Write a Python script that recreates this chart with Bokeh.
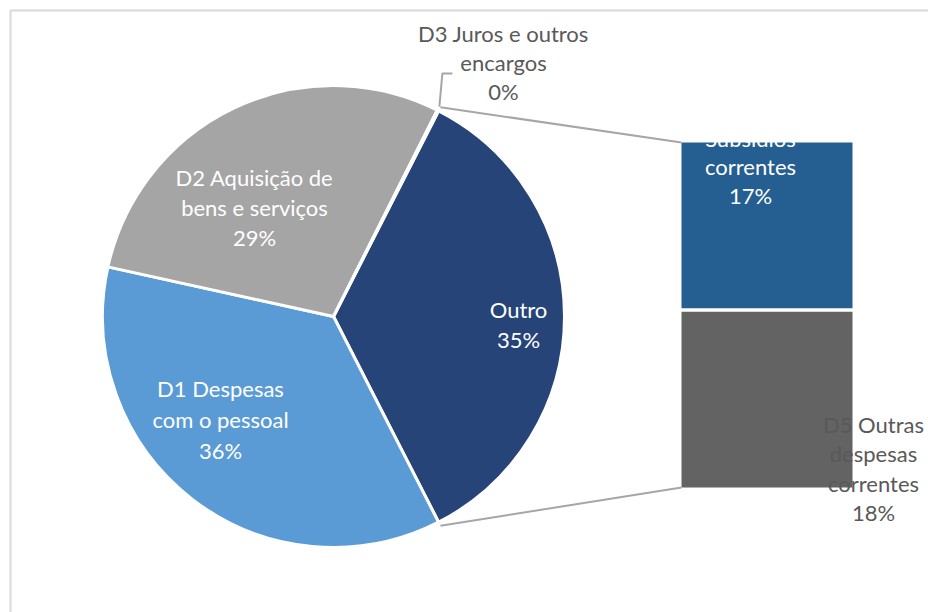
import math
from bokeh.plotting import figure
from bokeh.models import Range1d, ColumnDataSource
from bokeh.core.properties import value
from bokeh.embed import file_html
from bokeh.resources import INLINE

# ---- data ----
pie_labels = ["D1 Despesas com o pessoal", "D2 Aquisição de bens e serviços", "D3 Juros e outros encargos"]
pie_values = [36.0, 29.0, 0.1]
bar_labels = ["D4 Subsídios correntes", "D5 Outras despesas correntes"]
bar_values = [17.0, 18.0]
other_label = "Outro"

pie_colors = ["#5B9BD5", "#A5A5A5", "#FFC000"]
other_color = "#264478"
bar_colors = ["#255E91", "#636363"]

# ---- layout (screen pixels, y measured downward from the top) ----
W, H = 928, 612


def Y(sy):
    return H - sy


CX, CY, R = 333, Y(316), 231
BAR_X0, BAR_X1 = 681, 852
BAR_TOP, BAR_BOTTOM = Y(142), Y(487)
GAP = 3.5
FONT = "Lato"
FS = "22px"
LH = 29.8

other_value = sum(bar_values)
total = sum(pie_values) + other_value

p = figure(width=W, height=H, output_backend="svg", toolbar_location=None,
           x_range=Range1d(0, W), y_range=Range1d(0, H), min_border=0)
p.axis.visible = False
p.grid.visible = False
p.outline_line_color = None
p.background_fill_color = "white"
p.border_fill_color = "white"

# chart border (top and left visible)
p.line([10, 10, W], [0, Y(10), Y(10)], line_color="#d9d9d9", line_width=2)

# pie wedges: "Outro" centered on the right, others clockwise after it
span_other = 2 * math.pi * other_value / total
o_start, o_end = -span_other / 2, span_other / 2
starts, ends, cols = [o_start], [o_end], [other_color]
cur = o_start
for v, c in zip(pie_values, pie_colors):
    s = cur - 2 * math.pi * v / total
    starts.append(s)
    ends.append(cur)
    cols.append(c)
    cur = s
src = ColumnDataSource(dict(x=[CX] * len(starts), y=[CY] * len(starts),
                            start=starts, end=ends, color=cols))
p.wedge(x="x", y="y", radius=R, start_angle="start", end_angle="end",
        fill_color="color", line_color="white", line_width=3, source=src)

# bar of pie (segments separated by a small white gap)
scale = (BAR_TOP - BAR_BOTTOM) / other_value
tops, bottoms = [], []
cur = BAR_TOP
for i, v in enumerate(bar_values):
    t = cur - (GAP / 2 if i > 0 else 0)
    b = cur - v * scale + (GAP / 2 if i < len(bar_values) - 1 else 0)
    tops.append(t)
    bottoms.append(b)
    cur -= v * scale
p.quad(left=BAR_X0, right=BAR_X1, top=tops, bottom=bottoms,
       fill_color=bar_colors, line_color=None)

# connector lines
r_c = R + 4
p.segment(x0=[CX + r_c * math.cos(o_end), CX + r_c * math.cos(o_start)],
          y0=[CY + r_c * math.sin(o_end), CY + r_c * math.sin(o_start)],
          x1=[BAR_X0, BAR_X0], y1=[BAR_TOP, BAR_BOTTOM],
          line_color="#a6a6a6", line_width=2)

# D3 leader line
d3_ang = o_end + 0.005
lx = CX + (R + 4) * math.cos(d3_ang)
ly = CY + (R + 4) * math.sin(d3_ang)
p.line([lx, lx + 3, lx + 13], [ly, Y(73), Y(73)], line_color="#a6a6a6", line_width=2)


def pct(v):
    return f"{round(v / total * 100)}%"


def label(lines, x, sy_first, color, lh=LH):
    ys = [Y(sy_first + i * lh) for i in range(len(lines))]
    p.text(x=[x] * len(lines), y=ys, text=lines, text_color=color,
           text_font=value(FONT), text_font_size=FS,
           text_align="center", text_baseline="middle")


label(["D2 Aquisição de", "bens e serviços", pct(pie_values[1])], 254, 177, "white")
label(["D1 Despesas", "com o pessoal", pct(pie_values[0])], 220, 388, "white", 31)
label([other_label, pct(other_value)], 518, 309, "white")
label(["D3 Juros e outros", "encargos", pct(pie_values[2])], 503, 33, "#595959", 29)
label(["D4", "Subsídios", "correntes", pct(bar_values[0])], 750, 109, "white", 28.5)
label(["D5 Outras", "despesas", "correntes", pct(bar_values[1])], 873, 424, "#595959", 29.3)

open("out.html", "w").write(file_html(p, INLINE))
